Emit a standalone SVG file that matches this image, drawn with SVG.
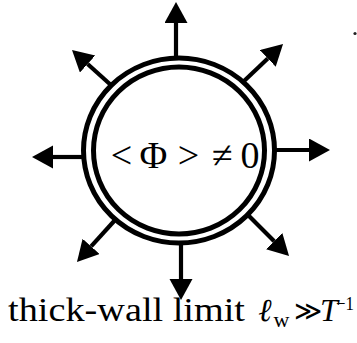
<svg xmlns="http://www.w3.org/2000/svg" width="357" height="343" viewBox="0 0 357 343">
<style>
.stem{stroke:#000;stroke-width:4.2;fill:none;marker-end:url(#head)}
.ring{fill:none;stroke:#000;stroke-width:5}
.t{font-family:"Liberation Serif","DejaVu Serif",serif;fill:#000}
</style>
<defs>
<marker id="head" markerUnits="userSpaceOnUse" markerWidth="24" markerHeight="26" refX="0" refY="11.5" orient="auto">
<path d="M0,0 L21,11.5 L0,23 Z" fill="#000"/>
</marker>
</defs>
<rect width="357" height="343" fill="#fff"/>
<g id="connectors">
<line class="stem" x1="176" y1="59" x2="176" y2="23"/>
<line class="stem" x1="181" y1="242" x2="181" y2="279"/>
<line class="stem" x1="85" y1="157" x2="53" y2="157"/>
<line class="stem" x1="273.5" y1="150" x2="309" y2="150"/>
<line class="stem" x1="243" y1="82" x2="267.8" y2="58.5"/>
<line class="stem" x1="112" y1="86" x2="87.6" y2="64"/>
<line class="stem" x1="116" y1="219" x2="91.1" y2="246.4"/>
<line class="stem" x1="248" y1="215" x2="274.2" y2="241.2"/>
</g>
<g id="wall">
<ellipse class="ring" cx="179" cy="150.5" rx="95.5" ry="92.5"/>
<ellipse class="ring" cx="179" cy="150.5" rx="85.5" ry="83.5"/>
<g class="t" font-size="38" text-anchor="middle">
<text x="121.5" y="168">&lt;</text>
<text x="153.5" y="168">Φ</text>
<text x="188.5" y="168">&gt;</text>
<text x="222.5" y="168">≠</text>
<text x="250" y="168">0</text>
</g>
</g>
<g id="caption" class="t">
<text x="8" y="321" font-size="34" textLength="237" lengthAdjust="spacingAndGlyphs">thick-wall limit</text>
<text x="265" y="321" font-size="32" font-style="italic" text-anchor="middle">ℓ</text>
<text x="281.5" y="327" font-size="22" text-anchor="middle">w</text>
<text x="307.5" y="320" font-size="27" text-anchor="middle">≫</text>
<text x="320" y="321" font-size="32" font-style="italic">T</text>
<text x="336" y="310" font-size="19" textLength="18" lengthAdjust="spacingAndGlyphs">−1</text>
</g>
<circle cx="355" cy="33.5" r="1.6" fill="#222"/>
</svg>
